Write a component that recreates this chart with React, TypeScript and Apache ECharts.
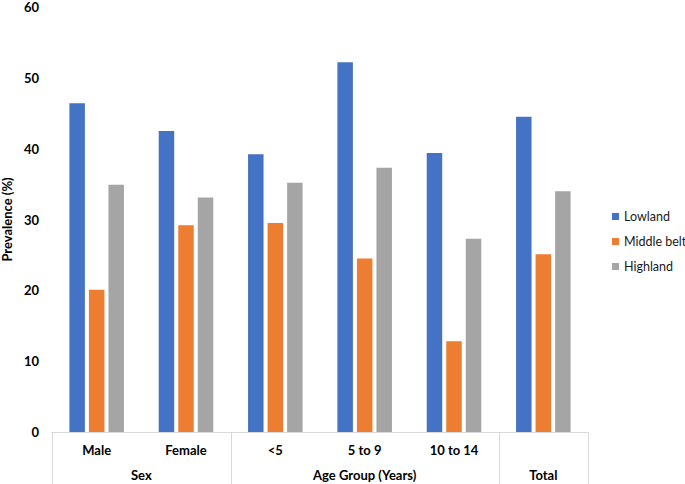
import React, { useEffect, useRef } from "react";
import * as echarts from "echarts";

const categories = ["Male", "Female", "<5", "5 to 9", "10 to 14", "Total"];
const lowland = [46.4, 42.5, 39.2, 52.2, 39.4, 44.5];
const middleBelt = [20.1, 29.2, 29.5, 24.5, 12.8, 25.1];
const highland = [34.9, 33.1, 35.2, 37.3, 27.3, 34.0];
const groupNames = ["Sex", "Age Group (Years)", "Total"];
const groupStarts = [0, 2, 5];
const groupEnds = [2, 5, 6];

const FONT = "Lato, 'Open Sans', sans-serif";
const LINE = "#d9d9d9";

export default function App() {
  const ref = useRef<HTMLDivElement>(null);
  useEffect(() => {
    if (!ref.current) return;
    const chart = echarts.init(ref.current, null, { renderer: "svg" });
    const bar = (name: string, data: number[], color: string) => ({
      name,
      type: "bar",
      data,
      barWidth: 15.5,
      barGap: "26%",
      itemStyle: { color },
    });
    chart.setOption({
      animation: false,
      textStyle: { fontFamily: FONT },
      grid: { left: 52, right: 97, top: 7, bottom: 52, containLabel: false, outerBoundsMode: "none" },
      legend: {
        orient: "vertical",
        left: 612,
        top: 210,
        padding: 0,
        itemWidth: 7,
        itemHeight: 7,
        itemGap: 12,
        icon: "rect",
        textStyle: { fontFamily: FONT, fontSize: 12.5, color: "#1a1a1a", overflow: "none" },
        data: ["Lowland", "Middle belt", "Highland"],
      },
      xAxis: {
        type: "category",
        data: categories,
        axisLine: { show: true, lineStyle: { color: LINE, width: 1 } },
        axisTick: { show: false },
        axisLabel: {
          margin: 11,
          fontWeight: "bold",
          fontSize: 13,
          color: "#000",
          fontFamily: FONT,
          formatter: (v: string) => (groupNames.includes(v) ? "" : v),
        },
      },
      yAxis: {
        type: "value",
        min: 0,
        max: 60,
        interval: 10,
        name: "Prevalence (%)",
        nameLocation: "middle",
        nameGap: 38,
        nameTextStyle: { fontWeight: "bold", fontSize: 13, color: "#000", fontFamily: FONT },
        splitLine: { show: false },
        axisLine: { show: false },
        axisTick: { show: false },
        axisLabel: { margin: 13, fontWeight: "bold", fontSize: 13, color: "#000", fontFamily: FONT },
      },
      series: [
        bar("Lowland", lowland, "#4472C4"),
        bar("Middle belt", middleBelt, "#ED7D31"),
        bar("Highland", highland, "#A5A5A5"),
      ],
    });

    const cx = (i: number) => chart.convertToPixel({ xAxisIndex: 0 }, i) as number;
    const band = cx(1) - cx(0);
    const edge = (i: number) => cx(0) - band / 2 + i * band;
    const y0 = chart.convertToPixel({ yAxisIndex: 0 }, 0) as number;
    const H = chart.getHeight();
    const graphics: any[] = [];
    const bounds = [0, ...groupEnds];
    bounds.forEach((b) => {
      const x = Math.round(edge(b)) + 0.5;
      graphics.push({
        type: "line",
        shape: { x1: x, y1: y0, x2: x, y2: H },
        style: { stroke: LINE, lineWidth: 1 },
        silent: true,
      });
    });
    groupNames.forEach((g, k) => {
      const mid = (edge(groupStarts[k]) + edge(groupEnds[k])) / 2;
      graphics.push({
        type: "text",
        x: mid,
        y: y0 + 43,
        style: {
          text: g,
          fontFamily: FONT,
          fontSize: 13,
          fontWeight: "bold",
          fill: "#000",
          align: "center",
          verticalAlign: "middle",
        },
        silent: true,
      });
    });
    chart.setOption({ graphic: graphics });

    return () => chart.dispose();
  }, []);
  return (
    <div
      ref={ref}
      style={{ position: "fixed", left: 0, top: 0, width: 685, height: 484, background: "#fff" }}
    />
  );
}
